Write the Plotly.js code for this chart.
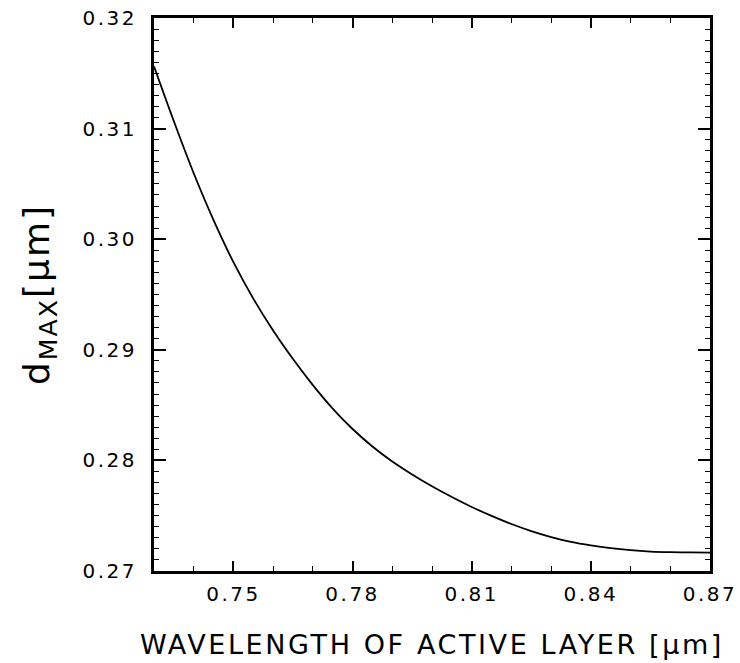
<!DOCTYPE html>
<html>
<head>
<meta charset="utf-8">
<script src="https://cdn.plot.ly/plotly-3.0.1.min.js"></script>
<style>
  html, body { margin: 0; padding: 0; background: #fff; }
  #chart { width: 740px; height: 663px; }
  .xtick text, .ytick text { letter-spacing: 2.5px; }
  .g-xtitle text { letter-spacing: 2.6px; }
  .g-ytitle text { letter-spacing: 2px; }
</style>
</head>
<body>
<div id="chart"></div>
<script>
// Wavelength of active layer [um]
const wavelength = [0.730, 0.735, 0.740, 0.745, 0.750, 0.755, 0.760, 0.765, 0.770, 0.775,
                    0.780, 0.785, 0.790, 0.795, 0.800, 0.805, 0.810, 0.815, 0.820, 0.825,
                    0.830, 0.835, 0.840, 0.845, 0.850, 0.855, 0.860, 0.865, 0.870];
// d_MAX [um]
const dMax = [0.31563, 0.31066, 0.30596, 0.30172, 0.29792, 0.29463, 0.29174, 0.28916, 0.28681, 0.28469,
              0.28284, 0.28126, 0.27990, 0.27873, 0.27766, 0.27669, 0.27579, 0.27498, 0.27425, 0.27361,
              0.27307, 0.27263, 0.27231, 0.27206, 0.27188, 0.27176, 0.27170, 0.27168, 0.27167];

const xTicks = [0.75, 0.78, 0.81, 0.84, 0.87];
const xTickLabels = ['0.75', '0.78', '0.81', '0.84', '0.87'];
const yTicks = [0.27, 0.28, 0.29, 0.30, 0.31, 0.32];
const yTickLabels = ['0.27', '0.28', '0.29', '0.30', '0.31', '0.32'];

const trace = {
  x: wavelength,
  y: dMax,
  type: 'scatter',
  mode: 'lines',
  line: { color: '#000', width: 1.8, shape: 'spline', smoothing: 1 },
  hoverinfo: 'skip'
};

const font = 'DejaVu Sans, Verdana, sans-serif';

const layout = {
  width: 740,
  height: 663,
  margin: { l: 154, r: 30, t: 18, b: 92 },
  paper_bgcolor: '#fff',
  plot_bgcolor: '#fff',
  showlegend: false,
  xaxis: {
    range: [0.73, 0.87],
    tickmode: 'array',
    tickvals: xTicks,
    ticktext: xTickLabels,
    ticks: 'inside',
    ticklen: 10,
    tickwidth: 2,
    tickcolor: '#000',
    showline: true,
    linewidth: 3,
    linecolor: '#000',
    mirror: 'ticks',
    showgrid: false,
    zeroline: false,
    ticklabelstandoff: 3,
    tickfont: { family: font, size: 20, color: '#000' },
    minor: { dtick: 0.01, tick0: 0.73, ticks: 'inside', ticklen: 5, tickwidth: 1, tickcolor: '#000', showgrid: false },
    title: {
      text: 'WAVELENGTH OF ACTIVE LAYER [μm]',
      font: { family: font, size: 27, color: '#000' },
      standoff: 31
    }
  },
  yaxis: {
    range: [0.27, 0.32],
    tickmode: 'array',
    tickvals: yTicks,
    ticktext: yTickLabels,
    ticks: 'inside',
    ticklen: 12,
    tickwidth: 2,
    tickcolor: '#000',
    showline: true,
    linewidth: 3,
    linecolor: '#000',
    mirror: 'ticks',
    showgrid: false,
    zeroline: false,
    ticklabelstandoff: 10,
    tickfont: { family: font, size: 20, color: '#000' },
    minor: { dtick: 0.001, tick0: 0.27, ticks: 'inside', ticklen: 5, tickwidth: 1, tickcolor: '#000', showgrid: false },
    title: {
      text: 'd<sub>MAX</sub>[μm]',
      font: { family: font, size: 36, color: '#000' },
      standoff: 22
    }
  }
};

Plotly.newPlot('chart', [trace], layout, { staticPlot: true, displayModeBar: false });
</script>
</body>
</html>
